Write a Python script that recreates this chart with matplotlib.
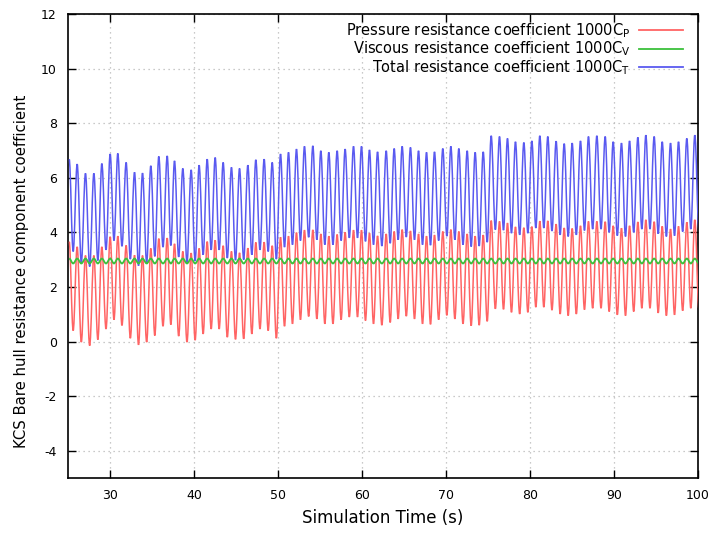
import numpy as np
import matplotlib
matplotlib.use("Agg")
import matplotlib.pyplot as plt
from matplotlib.path import Path
from matplotlib.patches import PathPatch
from matplotlib.lines import Line2D

# ---- data (one value per oscillation cycle) ----
peak_time = [
    25.14, 26.09, 27.08, 28.08, 29.03, 30.02, 30.93, 31.92, 32.92, 33.87, 34.86, 35.81, 36.81,
    37.68, 38.67, 39.66, 40.61, 41.57, 42.52, 43.47, 44.46, 45.42, 46.41, 47.36, 48.35, 49.31,
    50.30, 51.25, 52.20, 53.15, 54.15, 55.10, 56.05, 57.04, 57.99, 58.99, 59.94, 60.89, 61.85,
    62.88, 63.83, 64.78, 65.77, 66.73, 67.68, 68.63, 69.62, 70.58, 71.53, 72.52, 73.47, 74.43,
    75.38, 76.37, 77.32, 78.27, 79.27, 80.22, 81.17, 82.12, 83.11, 84.07, 85.02, 86.01, 86.96,
    87.96, 88.95, 89.90, 90.89, 91.85, 92.84, 93.79, 94.78, 95.74, 96.73, 97.68, 98.67, 99.62,
]

pressure_peak = [
    3.66, 3.47, 3.15, 3.15, 3.47, 3.84, 3.86, 3.52, 3.16, 3.15, 3.41, 3.77, 3.79,
    3.58, 3.30, 3.24, 3.41, 3.66, 3.71, 3.51, 3.30, 3.25, 3.42, 3.63, 3.64, 3.51,
    3.82, 3.86, 3.99, 4.08, 4.09, 3.94, 3.86, 3.92, 4.00, 4.08, 4.08, 3.97, 3.87,
    3.94, 4.03, 4.10, 4.05, 3.94, 3.86, 3.90, 4.03, 4.10, 4.03, 3.94, 3.86, 3.90,
    4.43, 4.40, 4.34, 4.20, 4.17, 4.21, 4.41, 4.42, 4.30, 4.16, 4.14, 4.24, 4.40,
    4.40, 4.39, 4.24, 4.15, 4.24, 4.38, 4.46, 4.39, 4.22, 4.12, 4.22, 4.37, 4.46,
]
pressure_trough = [
    0.40, -0.02, -0.15, 0.07, 0.46, 0.80, 0.59, 0.12, -0.12, -0.02, 0.22, 0.56, 0.62,
    0.20, -0.02, 0.05, 0.28, 0.46, 0.46, 0.16, 0.08, 0.10, 0.28, 0.46, 0.40, 0.12,
    0.56, 0.65, 0.80, 0.92, 0.83, 0.65, 0.65, 0.80, 0.90, 0.90, 0.77, 0.65, 0.60,
    0.70, 0.83, 0.93, 0.83, 0.65, 0.63, 0.80, 0.96, 0.83, 0.65, 0.58, 0.60, 0.74,
    1.20, 1.18, 1.07, 1.01, 1.07, 1.26, 1.26, 1.15, 1.01, 0.95, 1.01, 1.17, 1.22,
    1.22, 1.10, 0.98, 0.95, 1.10, 1.22, 1.22, 1.05, 0.95, 0.98, 1.13, 1.22, 1.22,
]

viscous_peak = [3.04] * 78
viscous_trough = [2.86] * 78

total_peak = [
    6.68, 6.50, 6.16, 6.16, 6.52, 6.87, 6.89, 6.56, 6.20, 6.17, 6.44, 6.78, 6.80,
    6.62, 6.34, 6.29, 6.46, 6.68, 6.74, 6.56, 6.38, 6.34, 6.46, 6.66, 6.68, 6.56,
    6.87, 6.93, 7.05, 7.15, 7.17, 6.99, 6.93, 6.99, 7.05, 7.15, 7.15, 7.02, 6.95,
    6.99, 7.07, 7.15, 7.11, 6.99, 6.93, 6.95, 7.07, 7.15, 7.07, 6.99, 6.93, 6.95,
    7.54, 7.51, 7.44, 7.32, 7.29, 7.35, 7.54, 7.51, 7.34, 7.25, 7.27, 7.35, 7.51,
    7.54, 7.51, 7.32, 7.27, 7.35, 7.48, 7.56, 7.51, 7.32, 7.27, 7.32, 7.44, 7.56,
]
total_trough = [
    3.30, 2.88, 2.75, 2.97, 3.36, 3.70, 3.49, 3.02, 2.78, 2.88, 3.12, 3.46, 3.52,
    3.10, 2.88, 2.95, 3.18, 3.36, 3.36, 3.06, 2.98, 3.00, 3.18, 3.36, 3.30, 3.02,
    3.46, 3.55, 3.70, 3.82, 3.73, 3.55, 3.55, 3.70, 3.80, 3.80, 3.67, 3.55, 3.50,
    3.60, 3.73, 3.83, 3.73, 3.55, 3.53, 3.70, 3.86, 3.73, 3.55, 3.48, 3.50, 3.64,
    4.10, 4.08, 3.97, 3.91, 3.97, 4.16, 4.16, 4.05, 3.91, 3.85, 3.91, 4.07, 4.12,
    4.12, 4.00, 3.88, 3.85, 4.00, 4.12, 4.12, 3.95, 3.85, 3.88, 4.03, 4.12, 4.12,
]

x_ticks = [30, 40, 50, 60, 70, 80, 90, 100]
y_ticks = [-4, -2, 0, 2, 4, 6, 8, 10, 12]
series_labels = [
    "Pressure resistance coefficient 1000C$_P$",
    "Viscous resistance coefficient 1000C$_V$",
    "Total resistance coefficient 1000C$_T$",
]


def cycle_curve(peaks, troughs):
    """Smooth path through alternating extrema (horizontal tangents at each
    peak/trough, drawn as cubic Bezier segments by matplotlib)."""
    pt = np.asarray(peak_time, dtype=float)
    tt = np.append((pt[:-1] + pt[1:]) / 2.0, pt[-1] + 0.49)
    t = np.empty(2 * len(pt))
    v = np.empty(2 * len(pt))
    t[0::2], t[1::2] = pt, tt
    v[0::2], v[1::2] = peaks, troughs
    verts = [(t[0], v[0])]
    codes = [Path.MOVETO]
    k = 0.3634
    for i in range(1, len(t)):
        h = t[i] - t[i - 1]
        verts += [(t[i - 1] + k * h, v[i - 1]), (t[i] - k * h, v[i]), (t[i], v[i])]
        codes += [Path.CURVE4] * 3
    return Path(verts, codes)


plt.rcParams["font.family"] = ["DejaVu Sans"]
plt.rcParams["mathtext.default"] = "regular"
plt.rcParams["axes.unicode_minus"] = False

fig = plt.figure(figsize=(7.13, 5.35), dpi=100)
ax = fig.add_axes([68 / 713, 1 - 478 / 535, 630 / 713, 464 / 535])

colors = ["#ff6464", "#3cc03c", "#5a5af0"]
widths = [1.1, 1.3, 1.1]
zorders = [3, 5, 4]
data = [(pressure_peak, pressure_trough),
        (viscous_peak, viscous_trough),
        (total_peak, total_trough)]
handles = []
for (pk, tr), c, w, z, lab in zip(data, colors, widths, zorders, series_labels):
    patch = PathPatch(cycle_curve(pk, tr), fill=False, edgecolor=c, lw=w,
                      zorder=z, clip_on=True)
    ax.add_patch(patch)
    handles.append(Line2D([], [], color=c, lw=1.3, label=lab))

ax.set_xlim(25, 100)
ax.set_ylim(-5, 12)
ax.set_xticks(x_ticks)
ax.set_yticks(y_ticks)
ax.tick_params(direction="in", length=6, width=1, top=True, right=True,
               labelsize=9, pad=8)
ax.grid(True, color="#b8b8b8", linestyle=(0, (1, 3)), linewidth=0.9)
for s in ax.spines.values():
    s.set_linewidth(1.2)

ax.set_xlabel("Simulation Time (s)", fontsize=12, labelpad=5)
ax.set_ylabel("KCS Bare hull resistance component coefficient", fontsize=10.7)
ax.yaxis.set_label_coords(-0.062, 0.446)

leg = ax.legend(handles=handles, loc="upper right",
                bbox_to_anchor=(683 / 713, 1 - 21 / 535),
                bbox_transform=fig.transFigure, frameon=False, markerfirst=False,
                fontsize=10.5, handlelength=3.0, handletextpad=0.6,
                labelspacing=0.0, borderpad=0, borderaxespad=0)

fig.savefig("out.png", dpi=100)
